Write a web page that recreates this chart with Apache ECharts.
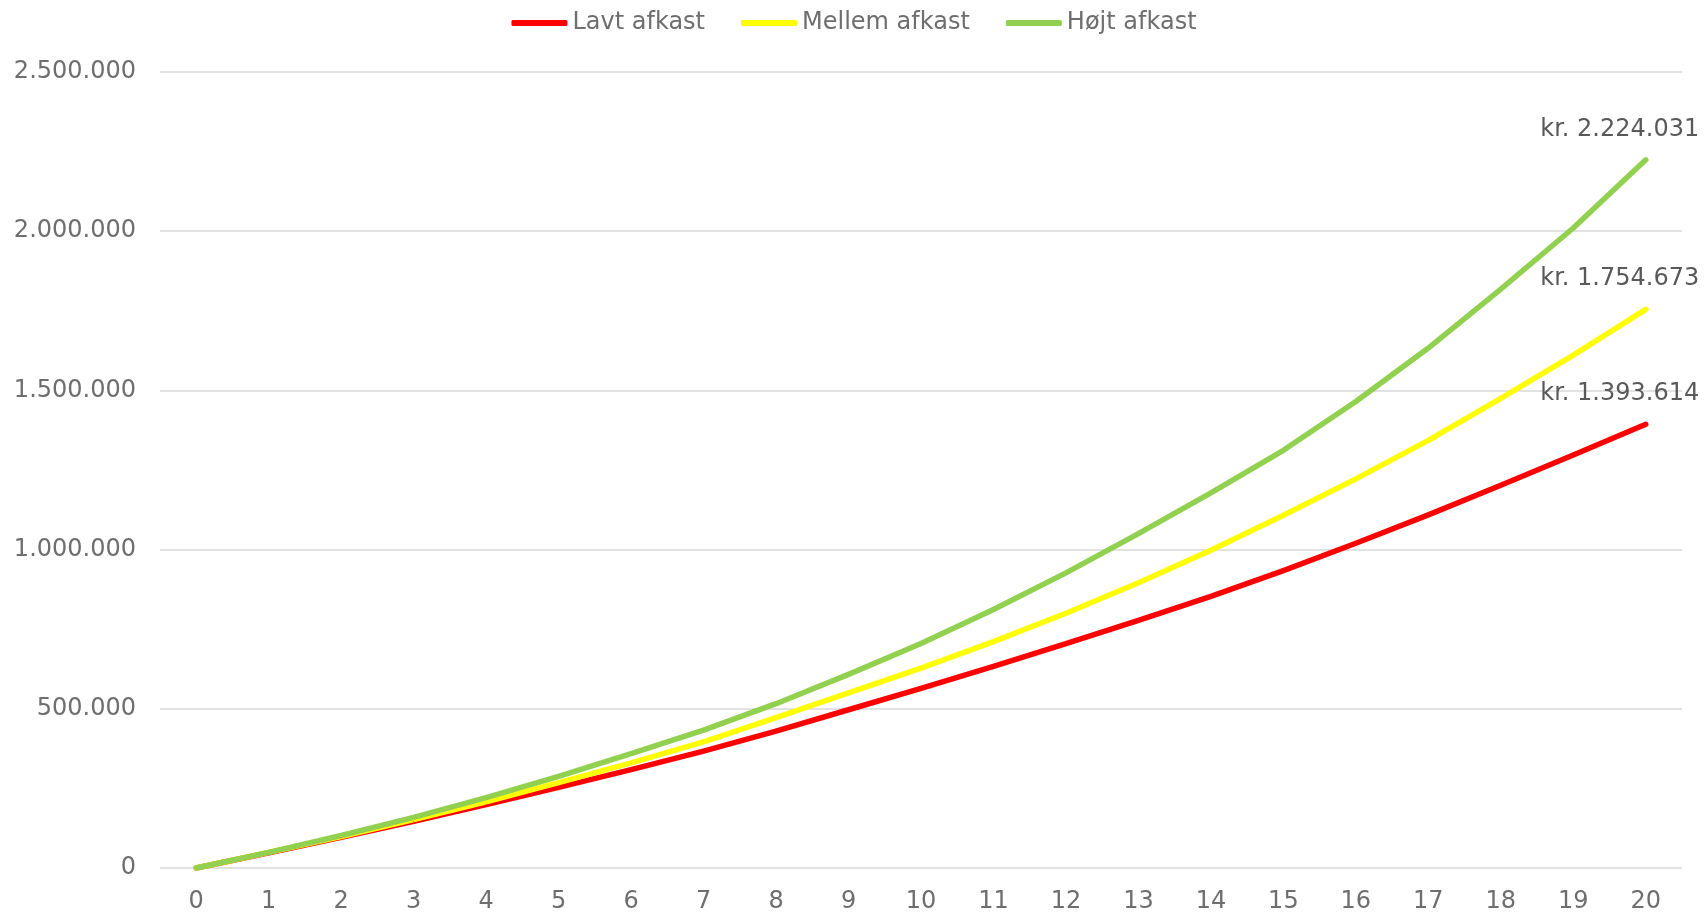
<!DOCTYPE html>
<html>
<head>
<meta charset="utf-8">
<script src="https://cdn.jsdelivr.net/npm/echarts@6/dist/echarts.min.js"></script>
<style>
html,body{margin:0;padding:0;background:#fff;}
#chart{width:1708px;height:915px;}
</style>
</head>
<body>
<div id="chart"></div>
<script>
const years = ['0','1','2','3','4','5','6','7','8','9','10','11','12','13','14','15','16','17','18','19','20'];
const seriesNames = ['Lavt afkast', 'Mellem afkast', 'Højt afkast'];
const lavt = [0, 48000, 96000, 147000, 199000, 253000, 309000, 367000, 430000, 497000, 564000, 633000, 705000, 778000, 853000, 934000, 1020000, 1109000, 1202000, 1297000, 1393614];
const mellem = [0, 49000, 99000, 152000, 208000, 268000, 330000, 396000, 472000, 550000, 628000, 711000, 800000, 896000, 998000, 1108000, 1222000, 1343000, 1475000, 1611000, 1754673];
const hoejt = [0, 49000, 102000, 159000, 221000, 288000, 359000, 433000, 516000, 608000, 705000, 812000, 927000, 1050000, 1178000, 1312000, 1465000, 1633000, 1818000, 2010000, 2224031];
const yTicks = {min: 0, max: 2500000, interval: 500000};
const colors = ['#FF0000', '#FFFF00', '#92D050'];

function fmt(v) {
  return String(Math.round(v)).replace(/\B(?=(\d{3})+(?!\d))/g, '.');
}

const axisColor = '#6E6E6E';
const labelColor = '#595959';
const font = 'DejaVu Sans';
const last = years.length - 1;

function makeSeries(name, data, color) {
  return {
    name: name,
    type: 'line',
    data: data,
    symbol: 'circle',
    symbolSize: 1,
    showSymbol: true,
    itemStyle: {color: color},
    lineStyle: {color: color, width: 5.5, cap: 'round', join: 'round'},
    emphasis: {disabled: true},
    label: {
      show: true,
      position: 'top',
      distance: 0,
      offset: [-26, -18],
      color: labelColor,
      fontFamily: font,
      fontSize: 24,
      formatter: function (p) { return p.dataIndex === last ? 'kr. ' + fmt(p.value) : ''; }
    }
  };
}

const chart = echarts.init(document.getElementById('chart'), null, {renderer: 'canvas'});
chart.setOption({
  animation: false,
  backgroundColor: '#ffffff',
  color: colors,
  legend: {
    top: 6,
    left: 'center',
    icon: 'roundRect',
    itemWidth: 56,
    itemHeight: 6,
    itemGap: 36,
    textStyle: {color: axisColor, fontFamily: font, fontSize: 24},
    data: seriesNames
  },
  grid: {left: 160, right: 26, top: 72, bottom: 47, containLabel: false},
  xAxis: {
    type: 'category',
    data: years,
    boundaryGap: true,
    axisLine: {show: false},
    axisTick: {show: false},
    axisLabel: {color: axisColor, fontFamily: font, fontSize: 24, margin: 22, interval: 0},
    splitLine: {show: false}
  },
  yAxis: {
    type: 'value',
    min: yTicks.min,
    max: yTicks.max,
    interval: yTicks.interval,
    axisLine: {show: false},
    axisTick: {show: false},
    axisLabel: {color: axisColor, fontFamily: font, fontSize: 24, margin: 24, formatter: fmt},
    splitLine: {lineStyle: {color: '#D9D9D9', width: 1.5}}
  },
  series: [
    makeSeries(seriesNames[0], lavt, colors[0]),
    makeSeries(seriesNames[1], mellem, colors[1]),
    makeSeries(seriesNames[2], hoejt, colors[2])
  ]
});
</script>
</body>
</html>
